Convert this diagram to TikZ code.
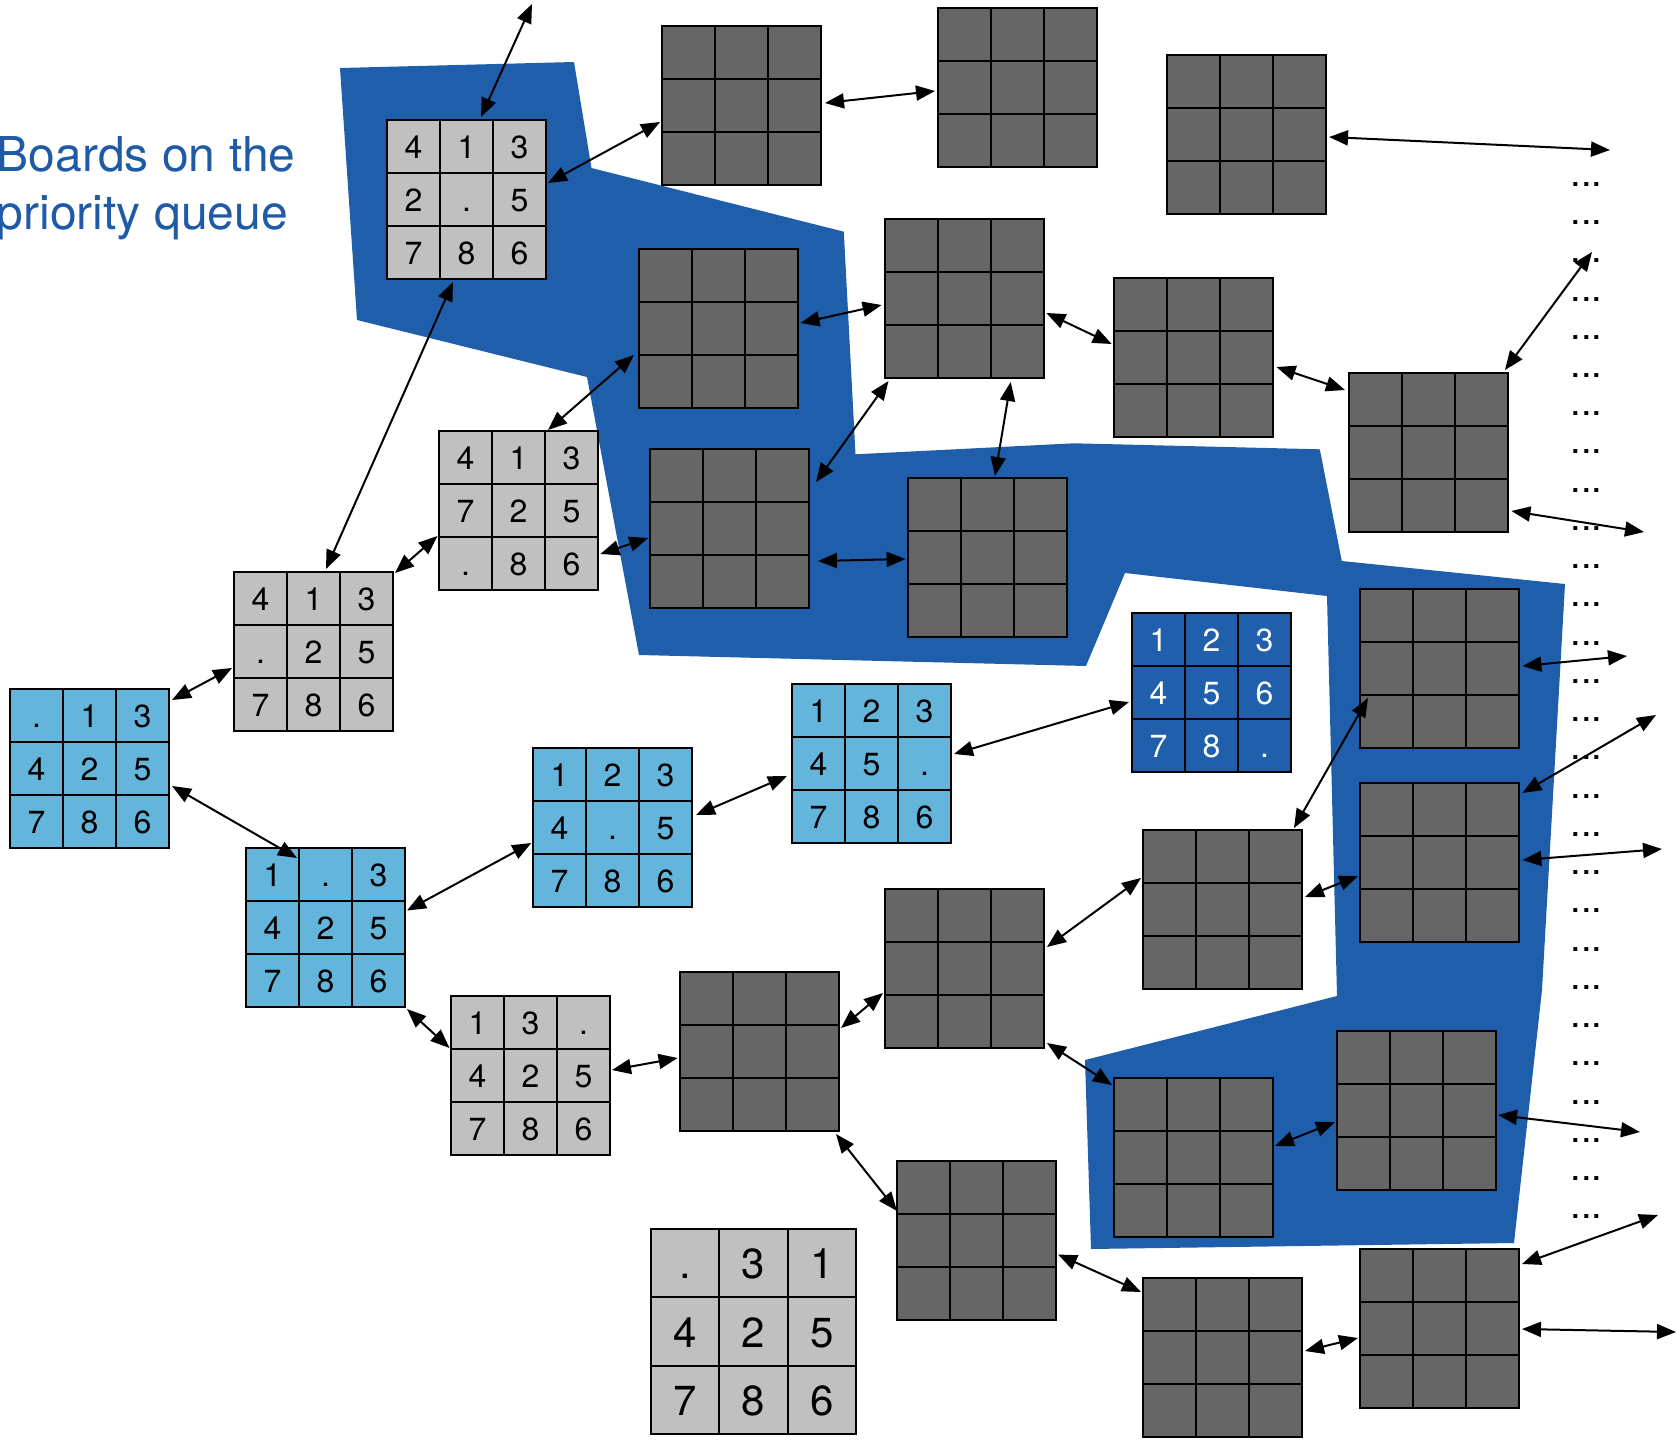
\documentclass[tikz,border=0pt]{standalone}
\usepackage{fontspec}
\setmainfont{TeX Gyre Heros}
\usetikzlibrary{arrows.meta}
\definecolor{qblue}{RGB}{30,94,170}
\definecolor{gblue}{RGB}{31,95,172}
\definecolor{lblue}{RGB}{99,181,219}
\definecolor{lgray}{RGB}{192,192,192}
\definecolor{dgray}{RGB}{102,102,102}
\definecolor{tblue}{RGB}{30,90,165}
\newcommand{\bbase}[5]{%
  \node[board, fill=#5, minimum size=#4*0.5pt, anchor=north west] (#1) at (#2,#3) {};
  \foreach \k in {1,2}{
    \draw[gridln] (#2+\k*#4/3,#3) -- (#2+\k*#4/3,#3+#4);
    \draw[gridln] (#2,#3+\k*#4/3) -- (#2+#4,#3+\k*#4/3);
  }
  \draw[boardln] (#1.north west) rectangle (#1.south east);
}
\newcommand{\bnums}[6]{%
  \foreach \ent [count=\i from 0] in {#6}{
    \pgfmathsetmacro\cx{#2+(mod(\i,3)+0.5)*#4/3}
    \pgfmathsetmacro\cy{#3+(floor(\i/3)+0.5)*#4/3+0.076*#4}
    \node[num, #5] (#1-\i) at (\cx,\cy) {\ent};
  }
}
\begin{document}
\begin{tikzpicture}[x=0.5pt,y=-0.5pt,
  board/.style={draw=none, inner sep=0pt, outer sep=0pt},
  gridln/.style={line width=1pt, black},
  boardln/.style={line width=1.2pt, black},
  num/.style={anchor=base, inner sep=0pt, font=\fontsize{16}{16}\selectfont},
  bignum/.style={font=\fontsize{21}{21}\selectfont},
  arr/.style={{Triangle[length=9.5pt,width=7.5pt]}-{Triangle[length=9.5pt,width=7.5pt]}, line width=1pt},
  title/.style={anchor=base west, inner sep=0pt, text=tblue, font=\fontsize{24}{28}\selectfont},
  dotsty/.style={anchor=base, inner sep=0pt, font=\fontsize{19}{19}\selectfont}]
\useasboundingbox (0,0) rectangle (1677,1440);

% priority queue region
\fill[qblue] (340,68) -- (574,62) -- (591.5,168) -- (843.8,231.7) -- (855.5,454.3)
  -- (1073.9,443.3) -- (1319.8,449.3) -- (1341.8,561) -- (1565,584) -- (1542,990)
  -- (1514,1243) -- (1091,1249) -- (1085,1060) -- (1337,996) -- (1327,596)
  -- (1125,573) -- (1086,666) -- (639,655) -- (587,377) -- (357,320) -- cycle;

\node[title] (t1) at (-3.5,171) {Boards on the};
\node[title] (t2) at (-3.5,229) {priority queue};

% boards with numbers
\bbase{A}{387}{120}{159}{lgray}  \bnums{A}{387}{120}{159}{}{4,1,3,2,.,5,7,8,6}
\bbase{B}{439}{431}{159}{lgray}  \bnums{B}{439}{431}{159}{}{4,1,3,7,2,5,.,8,6}
\bbase{E}{234}{572}{159}{lgray}  \bnums{E}{234}{572}{159}{}{4,1,3,.,2,5,7,8,6}
\bbase{F}{10}{689}{159}{lblue}   \bnums{F}{10}{689}{159}{}{.,1,3,4,2,5,7,8,6}
\bbase{G}{1132}{613}{159}{gblue} \bnums{G}{1132}{613}{159}{text=white}{1,2,3,4,5,6,7,8,.}
\bbase{H}{792}{684}{159}{lblue}  \bnums{H}{792}{684}{159}{}{1,2,3,4,5,.,7,8,6}
\bbase{I}{533}{748}{159}{lblue}  \bnums{I}{533}{748}{159}{}{1,2,3,4,.,5,7,8,6}
\bbase{J}{246}{848}{159}{lblue}  \bnums{J}{246}{848}{159}{}{1,.,3,4,2,5,7,8,6}
\bbase{K}{451}{996}{159}{lgray}  \bnums{K}{451}{996}{159}{}{1,3,.,4,2,5,7,8,6}
\bbase{Z}{651}{1229}{205}{lgray} \bnums{Z}{651}{1229}{205}{bignum}{.,3,1,4,2,5,7,8,6}

% unexplored boards
\bbase{top1}{662}{26}{159}{dgray}
\bbase{top2}{938}{8}{159}{dgray}
\bbase{top3}{1167}{55}{159}{dgray}
\bbase{mid1}{639}{249}{159}{dgray}
\bbase{mid2}{885}{219}{159}{dgray}
\bbase{mid3}{1114}{278}{159}{dgray}
\bbase{mid4}{1349}{373}{159}{dgray}
\bbase{C}{650}{449}{159}{dgray}
\bbase{D}{908}{478}{159}{dgray}
\bbase{L}{680}{972}{159}{dgray}
\bbase{M}{885}{889}{159}{dgray}
\bbase{N}{1143}{830}{159}{dgray}
\bbase{O}{1360}{589}{159}{dgray}
\bbase{P}{1360}{783}{159}{dgray}
\bbase{Q}{1114}{1078}{159}{dgray}
\bbase{R}{1337}{1031}{159}{dgray}
\bbase{S}{897}{1161}{159}{dgray}
\bbase{T}{1143}{1278}{159}{dgray}
\bbase{U}{1360}{1249}{159}{dgray}

% dots column
\foreach \j in {0,...,27}
  \node[dotsty] (dt\j) at (1586.5,{186.3+\j*38.24}) {...};

% free ends
\coordinate (e1) at (532,4);
\coordinate (e2) at (1610,150);
\coordinate (e3) at (1592,252);
\coordinate (e4) at (1644,532);
\coordinate (e5) at (1627,656);
\coordinate (e6) at (1656,715);
\coordinate (e7) at (1662,849);
\coordinate (e8) at (1658,1215);
\coordinate (e9) at (1676,1332);
\coordinate (e10) at (1640,1132);

% connectors
\draw[arr] ([shift={(94,-3)}]A.north west) -- (e1);
\draw[arr] ([shift={(161,63)}]A.north west) -- ([shift={(-2,96)}]top1.north west);
\draw[arr] ([shift={(163,77)}]top1.north west) -- ([shift={(-3,83)}]top2.north west);
\draw[arr] ([shift={(162,82)}]top3.north west) -- (e2);
\draw[arr] ([shift={(66,162)}]A.north west) -- ([shift={(92,-3)}]E.north west);
\draw[arr] ([shift={(-5,106)}]mid1.north west) -- ([shift={(109,-1)}]B.north west);
\draw[arr] ([shift={(161.5,74)}]mid1.north west) -- ([shift={(-3.4,86)}]mid2.north west);
\draw[arr] ([shift={(161.4,94)}]mid2.north west) -- ([shift={(-2.3,66)}]mid3.north west);
\draw[arr] ([shift={(162.5,89)}]mid3.north west) -- ([shift={(-4,17)}]mid4.north west);
\draw[arr] ([shift={(156,-3)}]mid4.north west) -- (e3);
\draw[arr] ([shift={(3.5,162)}]mid2.north west) -- ([shift={(166,33)}]C.north west);
\draw[arr] ([shift={(125.7,163)}]mid2.north west) -- ([shift={(87,-2)}]D.north west);
\draw[arr] ([shift={(168,112)}]C.north west) -- ([shift={(-2.4,81)}]D.north west);
\draw[arr] ([shift={(161,1)}]E.north west) -- ([shift={(-1.5,105)}]B.north west);
\draw[arr] ([shift={(161.4,123)}]B.north west) -- ([shift={(-1.8,89)}]C.north west);
\draw[arr] ([shift={(162,11)}]F.north west) -- ([shift={(-2,96)}]E.north west);
\draw[arr] ([shift={(162,97)}]F.north west) -- ([shift={(51,10)}]J.north west);
\draw[arr] ([shift={(161,62.5)}]J.north west) -- ([shift={(-1.75,95)}]I.north west);
\draw[arr] ([shift={(163,67)}]I.north west) -- ([shift={(-5,92)}]H.north west);
\draw[arr] ([shift={(162,70)}]H.north west) -- ([shift={(-3,89)}]G.north west);
\draw[arr] ([shift={(162.4,138)}]mid4.north west) -- (e4);
\draw[arr] ([shift={(162.4,77)}]O.north west) -- (e5);
\draw[arr] ([shift={(162.4,10)}]P.north west) -- (e6);
\draw[arr] ([shift={(162.4,77)}]P.north west) -- (e7);
\draw[arr] ([shift={(151,-2)}]N.north west) -- ([shift={(8,109)}]O.north west);
\draw[arr] ([shift={(162,67)}]N.north west) -- ([shift={(-2,93)}]P.north west);
\draw[arr] ([shift={(-2,48)}]N.north west) -- ([shift={(162,58)}]M.north west);
\draw[arr] ([shift={(-2,104)}]M.north west) -- ([shift={(161,56)}]L.north west);
\draw[arr] ([shift={(-2.4,86)}]L.north west) -- ([shift={(161,74)}]K.north west);
\draw[arr] ([shift={(-1.5,52)}]K.north west) -- ([shift={(161,161)}]J.north west);
\draw[arr] ([shift={(162,154)}]M.north west) -- ([shift={(-2,7)}]Q.north west);
\draw[arr] ([shift={(156,162)}]L.north west) -- ([shift={(0,50)}]S.north west);
\draw[arr] ([shift={(161,93.5)}]S.north west) -- ([shift={(-2,14)}]T.north west);
\draw[arr] ([shift={(162,73)}]T.north west) -- ([shift={(-2,89)}]U.north west);
\draw[arr] ([shift={(162,15)}]U.north west) -- (e8);
\draw[arr] ([shift={(162,80)}]U.north west) -- (e9);
\draw[arr] ([shift={(161,68)}]Q.north west) -- ([shift={(-2,91)}]R.north west);
\draw[arr] ([shift={(161,84)}]R.north west) -- (e10);
\end{tikzpicture}
\end{document}
